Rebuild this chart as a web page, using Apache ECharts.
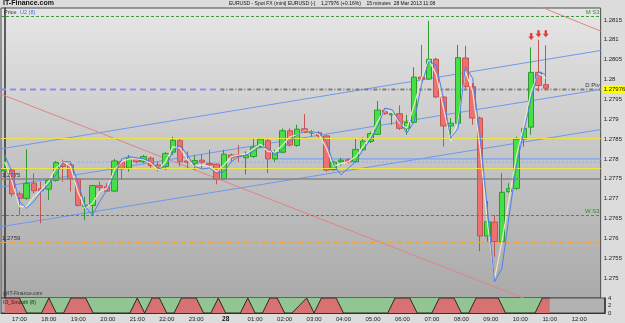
<!DOCTYPE html>
<html>
<head>
<meta charset="utf-8">
<script src="https://cdn.jsdelivr.net/npm/echarts@6/dist/echarts.min.js"></script>
<style>
  html, body { margin: 0; padding: 0; background: #dcdcdc; }
  #chart { width: 625px; height: 323px; }
</style>
</head>
<body>
<div id="chart"></div>
<script>
// EURUSD 15 minute bars, 27/28 Mar 2013 (16:30 -> 11:00), plus empty slots to 12:45
const slotCount = 82;
const times = [];
for (let i = 0; i < slotCount; i++) {
  const m = (16 * 60 + 30 + i * 15) % 1440;
  times.push(String(Math.floor(m / 60)).padStart(2, '0') + ':' + String(m % 60).padStart(2, '0'));
}

// [open, close, low, high]
const candles = [
  [1.27770, 1.27775, 1.27768, 1.27806], [1.27772, 1.27712, 1.27705, 1.27777],
  [1.27712, 1.27701, 1.27659, 1.27718], [1.27701, 1.27739, 1.27697, 1.27824],
  [1.27739, 1.27720, 1.27714, 1.27764], [1.27725, 1.27720, 1.27638, 1.27743],
  [1.27724, 1.27746, 1.27697, 1.27751], [1.27746, 1.27791, 1.27743, 1.27795],
  [1.27789, 1.27781, 1.27743, 1.27798], [1.27785, 1.27751, 1.27718, 1.27789],
  [1.27750, 1.27683, 1.27680, 1.27751], [1.27680, 1.27684, 1.27646, 1.27705],
  [1.27683, 1.27733, 1.27659, 1.27735], [1.27733, 1.27728, 1.27718, 1.27743],
  [1.27730, 1.27719, 1.27718, 1.27739], [1.27719, 1.27795, 1.27718, 1.27800],
  [1.27793, 1.27775, 1.27747, 1.27800], [1.27777, 1.27802, 1.27768, 1.27810],
  [1.27800, 1.27793, 1.27789, 1.27803], [1.27793, 1.27806, 1.27789, 1.27810],
  [1.27802, 1.27783, 1.27778, 1.27806], [1.27785, 1.27777, 1.27768, 1.27793],
  [1.27781, 1.27814, 1.27772, 1.27817], [1.27817, 1.27847, 1.27810, 1.27856],
  [1.27846, 1.27793, 1.27781, 1.27850], [1.27795, 1.27792, 1.27777, 1.27819],
  [1.27789, 1.27796, 1.27772, 1.27810], [1.27797, 1.27792, 1.27777, 1.27812],
  [1.27789, 1.27785, 1.27777, 1.27823], [1.27787, 1.27749, 1.27736, 1.27789],
  [1.27750, 1.27812, 1.27747, 1.27823], [1.27810, 1.27803, 1.27793, 1.27814],
  [1.27810, 1.27806, 1.27793, 1.27835], [1.27803, 1.27809, 1.27761, 1.27819],
  [1.27806, 1.27830, 1.27803, 1.27852], [1.27830, 1.27850, 1.27827, 1.27852],
  [1.27846, 1.27800, 1.27764, 1.27850], [1.27800, 1.27817, 1.27793, 1.27823],
  [1.27817, 1.27871, 1.27814, 1.27877], [1.27871, 1.27835, 1.27831, 1.27877],
  [1.27834, 1.27875, 1.27831, 1.27886], [1.27876, 1.27867, 1.27865, 1.27913],
  [1.27865, 1.27867, 1.27856, 1.27873], [1.27866, 1.27858, 1.27854, 1.27870],
  [1.27858, 1.27772, 1.27768, 1.27861], [1.27773, 1.27792, 1.27770, 1.27795],
  [1.27793, 1.27797, 1.27783, 1.27803], [1.27798, 1.27793, 1.27789, 1.27802],
  [1.27793, 1.27824, 1.27791, 1.27850], [1.27823, 1.27845, 1.27820, 1.27854],
  [1.27844, 1.27864, 1.27840, 1.27869], [1.27862, 1.27923, 1.27861, 1.27946],
  [1.27923, 1.27914, 1.27911, 1.27928], [1.27911, 1.27914, 1.27886, 1.27916],
  [1.27914, 1.27877, 1.27873, 1.27935], [1.27877, 1.27892, 1.27861, 1.27911],
  [1.27892, 1.28006, 1.27890, 1.28031], [1.28006, 1.28001, 1.27995, 1.28087],
  [1.28001, 1.28051, 1.27999, 1.28148], [1.28051, 1.27956, 1.27953, 1.28055],
  [1.27956, 1.27883, 1.27831, 1.27957], [1.27883, 1.27890, 1.27861, 1.27903],
  [1.27890, 1.28055, 1.27886, 1.28087], [1.28054, 1.27982, 1.27978, 1.28085],
  [1.27982, 1.27903, 1.27886, 1.27991], [1.27903, 1.27606, 1.27568, 1.27907],
  [1.27606, 1.27642, 1.27592, 1.27694], [1.27641, 1.27592, 1.27554, 1.27659],
  [1.27592, 1.27716, 1.27588, 1.27764], [1.27718, 1.27725, 1.27714, 1.27739],
  [1.27726, 1.27850, 1.27722, 1.27856], [1.27850, 1.27877, 1.27831, 1.27886],
  [1.27880, 1.28018, 1.27861, 1.28081], [1.28018, 1.27985, 1.27970, 1.28100],
  [1.27987, 1.27978, 1.27977, 1.28086]
];

// smoothed averages (cream = fast, blue = U2 (8))
const maFast = [
  1.27793, 1.27743, 1.27680, 1.27680, 1.27705, 1.27722, 1.27743, 1.27777, 1.27793, 1.27781,
  1.27718, 1.27676, 1.27688, 1.27718, 1.27726, 1.27772, 1.27793, 1.27800, 1.27800, 1.27798,
  1.27789, 1.27772, 1.27793, 1.27831, 1.27827, 1.27798, 1.27781, 1.27785, 1.27781, 1.27768,
  1.27785, 1.27806, 1.27810, 1.27812, 1.27825, 1.27837, 1.27819, 1.27817, 1.27835, 1.27856,
  1.27861, 1.27870, 1.27869, 1.27862, 1.27827, 1.27781, 1.27789, 1.27793, 1.27806, 1.27831,
  1.27856, 1.27894, 1.27924, 1.27917, 1.27890, 1.27877, 1.27936, 1.28003, 1.28050, 1.28012,
  1.27928, 1.27844, 1.27894, 1.28020, 1.27970, 1.27827, 1.27642, 1.27499, 1.27592, 1.27701,
  1.27810, 1.27886, 1.27970, 1.28016, 1.28003
];
const maSlow = [
  1.27810, 1.27768, 1.27693, 1.27676, 1.27693, 1.27718, 1.27735, 1.27760, 1.27793, 1.27793,
  1.27743, 1.27680, 1.27659, 1.27693, 1.27722, 1.27760, 1.27800, 1.27806, 1.27803, 1.27800,
  1.27793, 1.27775, 1.27781, 1.27819, 1.27835, 1.27810, 1.27781, 1.27775, 1.27777, 1.27764,
  1.27768, 1.27793, 1.27806, 1.27810, 1.27819, 1.27831, 1.27827, 1.27810, 1.27823, 1.27844,
  1.27861, 1.27869, 1.27869, 1.27865, 1.27844, 1.27785, 1.27760, 1.27777, 1.27793, 1.27823,
  1.27848, 1.27881, 1.27928, 1.27924, 1.27894, 1.27865, 1.27894, 1.27987, 1.28045, 1.28037,
  1.27953, 1.27852, 1.27877, 1.28033, 1.28003, 1.27861, 1.27676, 1.27491, 1.27525, 1.27659,
  1.27785, 1.27869, 1.27953, 1.28020, 1.28012
];

// lower panel oscillator (0..4)
const oscValues = [
  4, 4, 4, 0, 0, 0, 4, 0, 0, 4, 4, 4,
  0, 0, 0, 0, 0, 0, 4, 0, 4, 4, 0, 0,
  4, 4, 4, 0, 0, 4, 0, 0, 0, 4, 0, 0,
  4, 4, 0, 0, 2, 4, 0, 4, 4, 4, 0, 0,
  0, 0, 0, 0, 0, 4, 4, 4, 0, 0, 0, 4,
  4, 4, 0, 0, 4, 4, 4, 4, 0, 0, 0, 0,
  0, 4, 4
];

// sell signals above last bars [slot, price]
const signalArrows = [[72, 1.28108], [73, 1.28115], [74, 1.28115]];

// drawn trend lines, [slot, price] end points
const channelUpper = [[-0.64, 1.27825], [81.5, 1.28073]];
const channelMid = [[-0.64, 1.27729], [81.5, 1.27975]];
const channelLow = [[-0.64, 1.27629], [81.5, 1.27874]];
const redTrendLow = [[-0.64, 1.27964], [81.5, 1.27374]];
const redTrendHigh = [[72.6, 1.28188], [81.5, 1.28122]];
const pivotLeft = [[-0.64, 1.27975], [29.5, 1.27975]];
const pivotRight = [[29.5, 1.27975], [81.5, 1.27975]];
const blueLevel = [[37, 1.27800], [81.5, 1.27800]];
const blueDotted = [[10, 1.27792], [81.5, 1.27792]];

// horizontal levels
const monthS3 = 1.28158, weekS3 = 1.27659, orangeLevel = 1.27591, grayLevel = 1.27749;
const yellowHigh = 1.27853, yellowLow = 1.27777, pivot = 1.27975, lastPrice = 1.27976;

const chart = echarts.init(document.getElementById('chart'), null, { renderer: 'canvas' });

const trend = (data, color, width, type) => ({
  type: 'line', xAxisIndex: 2, yAxisIndex: 0, data: data, symbol: 'none', silent: true,
  clip: true, z: 1,
  lineStyle: { color: color, width: width, type: type || 'solid' }
});

const smallLabel = (text, pos, color) => ({
  show: true, formatter: text, position: pos, fontSize: 6, color: color, distance: 1
});

const hidden = { color: 'rgba(0,0,0,0)', width: 0 };

const option = {
  animation: false,
  backgroundColor: '#dcdcdc',
  textStyle: { fontFamily: 'Liberation Sans, Arial, sans-serif' },
  graphic: [
    { type: 'text', left: 3, top: 0, style: { text: 'IT-Finance.com', font: 'bold 7px Liberation Sans', fill: '#111' } },
    { type: 'text', left: 229, top: 1, style: { text: 'EURUSD - Spot FX (mini) EURUSD (-)    1,27976 (+0.16%)    15 minutes  28 Mar 2013 11:08', font: '5px Liberation Sans', fill: '#111' } },
    { type: 'text', left: 4, top: 9, style: { text: 'Price', font: '5.5px Liberation Sans', fill: '#333' } },
    { type: 'text', left: 20, top: 9, style: { text: 'U2 (8)', font: '5.5px Liberation Sans', fill: '#3a6fe0' } },
    { type: 'text', left: 3, top: 291, style: { text: '@IT-Finance.com', font: '5px Liberation Sans', fill: '#333' } },
    { type: 'text', left: 3, top: 300, z: 10, style: { text: 'IO_Smooth (8)', font: '5px Liberation Sans', fill: '#222' } }
  ],
  grid: [
    {
      left: 1, top: 8, width: 604, height: 290, show: true,
      borderColor: '#4a4a4a', borderWidth: 1,
      backgroundColor: {
        type: 'linear', x: 0, y: 0, x2: 0, y2: 1,
        colorStops: [
          { offset: 0, color: '#e6e6e6' },
          { offset: 0.5, color: '#c6c6c6' },
          { offset: 1, color: '#aaaaaa' }
        ]
      }
    },
    { left: 1, top: 298, width: 604, height: 16, show: true, borderColor: '#4a4a4a', borderWidth: 1, backgroundColor: '#b2b2b2' }
  ],
  xAxis: [
    { type: 'category', gridIndex: 0, data: times, boundaryGap: true, show: false },
    {
      type: 'category', gridIndex: 1, data: times, boundaryGap: true,
      axisLine: { lineStyle: { color: '#333' } },
      axisTick: { show: false },
      axisLabel: {
        interval: (idx, val) => val.endsWith(':00'),
        formatter: (val) => val === '00:00' ? '{b|28}' : '{a|' + val + '}',
        margin: 3,
        rich: {
          a: { fontSize: 6, color: '#222' },
          b: { fontSize: 6.5, fontWeight: 'bold', color: '#111' }
        }
      }
    },
    { type: 'value', gridIndex: 0, min: -0.5, max: slotCount - 0.5, show: false }
  ],
  yAxis: [
    {
      type: 'value', gridIndex: 0, position: 'right', min: 1.2745, max: 1.2818, interval: 0.0005,
      splitLine: { show: false },
      axisLine: { show: true, lineStyle: { color: '#333', width: 1.5 } },
      axisTick: { show: false },
      axisLabel: {
        fontSize: 6, color: '#222', margin: 3,
        formatter: (v) => (v < 1.2749 || v > 1.2816) ? '' : String(+v.toFixed(5))
      }
    },
    {
      type: 'value', gridIndex: 1, position: 'right', min: 0, max: 4, interval: 2,
      splitLine: { show: false },
      axisLine: { show: true, lineStyle: { color: '#333', width: 1.5 } },
      axisTick: { show: false },
      axisLabel: { fontSize: 6, color: '#222', margin: 3 }
    }
  ],
  series: [
    trend(channelUpper, '#6f98ee', 1),
    trend(channelMid, '#6f98ee', 1),
    trend(channelLow, '#6f98ee', 1),
    trend(redTrendLow, '#e08484', 1),
    trend(redTrendHigh, '#e08484', 1),
    trend(pivotLeft, '#8d8fe6', 2, [6, 4]),
    trend(pivotRight, '#7c7c7c', 2, [4, 2, 1, 2]),
    trend(blueLevel, '#7fa2ee', 1.2),
    trend(blueDotted, '#8aa8ee', 1, [2, 2]),
    {
      name: 'levels', type: 'line', xAxisIndex: 2, yAxisIndex: 0, data: [], clip: false, z: 2,
      symbol: 'none', silent: true,
      markLine: {
        silent: true, symbol: 'none', animation: false, precision: 5,
        label: { show: false },
        data: [
          { yAxis: monthS3, lineStyle: { color: '#3a9a3a', type: [3, 2], width: 1 }, label: smallLabel('M S3', 'insideEndTop', '#2f8a2f') },
          { yAxis: weekS3, lineStyle: { color: '#3a9a3a', type: [3, 2], width: 1 }, label: smallLabel('W S3', 'insideEndTop', '#2f8a2f') },
          { yAxis: orangeLevel, lineStyle: { color: '#eea33a', type: [5, 4], width: 1 }, label: smallLabel('1.2759', 'insideStartTop', '#333') },
          { yAxis: grayLevel, lineStyle: { color: '#858585', type: 'solid', width: 1.5 }, label: smallLabel('1.2775', 'insideStartTop', '#333') },
          { yAxis: yellowHigh, lineStyle: { color: '#ece44a', type: 'solid', width: 1 } },
          { yAxis: yellowLow, lineStyle: { color: '#ece44a', type: 'solid', width: 1 } },
          { yAxis: pivot, lineStyle: hidden, label: smallLabel('D Piv', 'insideEndTop', '#333') },
          {
            yAxis: lastPrice, lineStyle: hidden,
            label: { show: true, position: 'end', distance: 2, formatter: '1.27976', fontSize: 6, color: '#111', backgroundColor: '#ffff00', padding: [1, 1] }
          }
        ]
      }
    },
    {
      name: 'Price', type: 'candlestick', xAxisIndex: 0, yAxisIndex: 0,
      data: candles, barWidth: 6, z: 3,
      itemStyle: {
        color: '#45e045', color0: '#f07070',
        borderColor: '#2e9a2e', borderColor0: '#c25454', borderWidth: 1
      }
    },
    {
      name: 'fast', type: 'line', xAxisIndex: 0, yAxisIndex: 0, data: maFast, symbol: 'none', z: 4,
      lineStyle: { color: '#efe7c8', width: 1.2 }
    },
    {
      name: 'U2 (8)', type: 'line', xAxisIndex: 0, yAxisIndex: 0, data: maSlow, symbol: 'none', z: 5,
      lineStyle: { color: '#4d7ff0', width: 1 }
    },
    {
      name: 'signals', type: 'scatter', xAxisIndex: 0, yAxisIndex: 0, data: signalArrows, z: 6,
      symbol: 'path://M3,0 L7,0 L7,5 L10,5 L5,10 L0,5 L3,5 Z', symbolSize: [6, 7],
      itemStyle: { color: '#e01414' }
    },
    {
      name: 'osc', type: 'line', xAxisIndex: 1, yAxisIndex: 1, data: oscValues, stack: 'osc',
      symbol: 'none', z: 3,
      lineStyle: { color: '#2a2a2a', width: 1 },
      areaStyle: { color: '#d77272', opacity: 1 }
    },
    {
      name: 'oscRest', type: 'line', xAxisIndex: 1, yAxisIndex: 1, data: oscValues.map(v => 4 - v), stack: 'osc',
      symbol: 'none', z: 2,
      lineStyle: { width: 0 },
      areaStyle: { color: '#92c592', opacity: 1 }
    }
  ]
};

chart.setOption(option);
</script>
</body>
</html>
